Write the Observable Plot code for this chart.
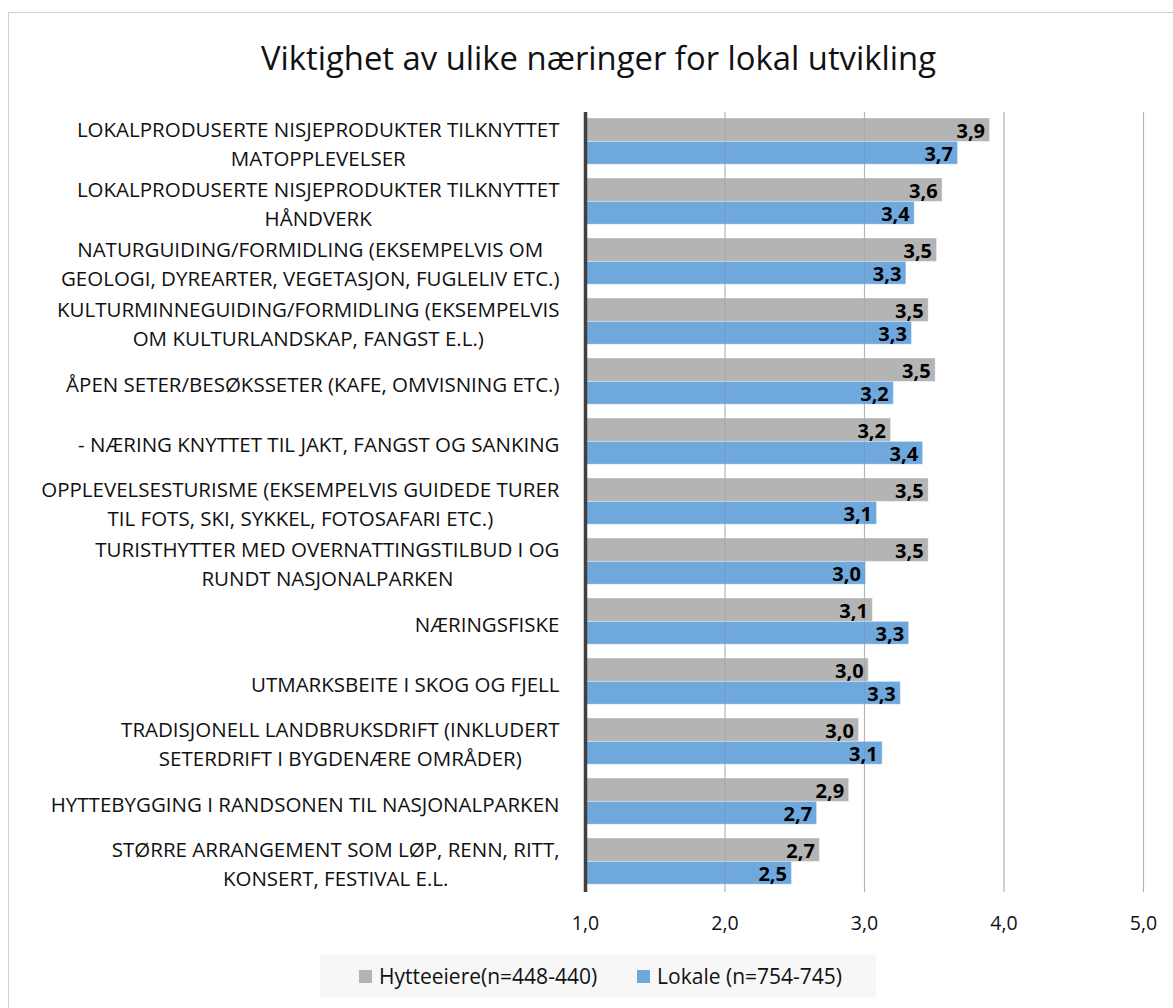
<!DOCTYPE html>
<html>
<head>
<meta charset="utf-8">
<script src="https://cdn.jsdelivr.net/npm/d3@7"></script>
<script src="https://cdn.jsdelivr.net/npm/@observablehq/plot@0.6"></script>
<style>
  body { margin: 0; background: #fff; font-family: "Open Sans", sans-serif; }
  #wrap { position: relative; width: 1173px; height: 1008px; overflow: hidden; }
  #border { position: absolute; left: 8px; top: 12px; width: 1200px; height: 1100px; border: 1px solid #d0d0d0; box-sizing: border-box; }
  #title { position: absolute; top: 36px; left: 0; width: 1197px; text-align: center; font-size: 32.8px; color: #111; line-height: 44px; }
  #chart { position: absolute; top: 100px; left: 0; }
  #legend { position: absolute; left: 320px; top: 954px; width: 556px; height: 44px; background: #f7f7f7; box-sizing: border-box;
            padding-left: 39px; display: flex; align-items: center; justify-content: flex-start; gap: 40px; font-size: 21px; color: #111; }
  .item { display: flex; align-items: center; gap: 7px; }
  .sw { width: 13px; height: 13px; display: inline-block; }
</style>
</head>
<body>
<div id="wrap">
  <div id="border"></div>
  <div id="title">Viktighet av ulike næringer for lokal utvikling</div>
  <div id="chart"></div>
  <div id="legend"></div>
</div>
<script>
const categories = [
  "LOKALPRODUSERTE NISJEPRODUKTER TILKNYTTET\nMATOPPLEVELSER",
  "LOKALPRODUSERTE NISJEPRODUKTER TILKNYTTET\nHÅNDVERK",
  "NATURGUIDING/FORMIDLING (EKSEMPELVIS OM\nGEOLOGI, DYREARTER, VEGETASJON, FUGLELIV ETC.)",
  "KULTURMINNEGUIDING/FORMIDLING (EKSEMPELVIS\nOM KULTURLANDSKAP, FANGST E.L.)",
  "ÅPEN SETER/BESØKSSETER (KAFE, OMVISNING ETC.)",
  "- NÆRING KNYTTET TIL JAKT, FANGST OG SANKING",
  "OPPLEVELSESTURISME (EKSEMPELVIS GUIDEDE TURER\nTIL FOTS, SKI, SYKKEL, FOTOSAFARI ETC.)",
  "TURISTHYTTER MED OVERNATTINGSTILBUD I OG\nRUNDT NASJONALPARKEN",
  "NÆRINGSFISKE",
  "UTMARKSBEITE I SKOG OG FJELL",
  "TRADISJONELL LANDBRUKSDRIFT (INKLUDERT\nSETERDRIFT I BYGDENÆRE OMRÅDER)",
  "HYTTEBYGGING I RANDSONEN TIL NASJONALPARKEN",
  "STØRRE ARRANGEMENT SOM LØP, RENN, RITT,\nKONSERT, FESTIVAL E.L."
];
const seriesNames = ["Hytteeiere(n=448-440)", "Lokale (n=754-745)"];
const hytteeiere = [3.90, 3.56, 3.52, 3.46, 3.51, 3.19, 3.46, 3.46, 3.06, 3.03, 2.96, 2.89, 2.68];
const lokale     = [3.67, 3.36, 3.30, 3.34, 3.21, 3.42, 3.09, 3.01, 3.32, 3.26, 3.13, 2.66, 2.48];
const xTicks = [1, 2, 3, 4, 5];

const colors = ["#b4b4b4", "#6fa8dc"];
const fmt = v => d3.format(".1f")(v).replace(".", ",");

const rows = [];
categories.forEach((c, i) => {
  rows.push({i, series: seriesNames[0], value: hytteeiere[i], k: 0});
  rows.push({i, series: seriesNames[1], value: lokale[i], k: 1});
});
const band = [[0.1, 0.49], [0.49, 0.87]];

const labelSize = 20.5;
const labelFont = `${labelSize}px "Open Sans"`;
const ctx = document.createElement("canvas").getContext("2d");
ctx.font = labelFont;
const measure = s => ctx.measureText(s).width;
const labelGap = 26;

const labelMarks = categories.map((c, i) => {
  const w = d3.max(c.split("\n"), measure);
  return Plot.text([c], {
    x: 1, y: i + 0.5, text: d => d, textAnchor: "middle",
    dx: -(labelGap + w / 2), fontSize: labelSize, lineHeight: 1.37, fill: "#111"
  });
});

const chart = Plot.plot({
  width: 1173,
  height: 840,
  marginLeft: 585,
  marginRight: 30,
  marginTop: 12,
  marginBottom: 48,
  style: {fontFamily: "Open Sans", fontSize: "19.5px", color: "#111", background: "transparent"},
  x: {domain: [1, 5], ticks: xTicks, tickFormat: fmt, tickSize: 0, tickPadding: 24, label: null},
  y: {domain: [0, categories.length], reverse: true, axis: null},
  color: {domain: seriesNames, range: colors},
  marks: [
    Plot.ruleX(xTicks.slice(1), {y1: 0, y2: categories.length, stroke: "#c4c4c4", strokeWidth: 1.2}),
    Plot.rect(rows, {
      x1: 1, x2: "value",
      y1: d => d.i + band[d.k][0], y2: d => d.i + band[d.k][1],
      fill: "series", stroke: "#ffffff", strokeOpacity: 0.35, strokeWidth: 1
    }),
    Plot.ruleX(xTicks.slice(1), {y1: 0, y2: categories.length, stroke: "#777", strokeOpacity: 0.18}),
    Plot.ruleX([1], {y1: 0, y2: categories.length, stroke: "#404040", strokeWidth: 3.5}),
    Plot.text(rows, {
      x: "value", y: d => d.i + (band[d.k][0] + band[d.k][1]) / 2,
      text: d => fmt(d.value), textAnchor: "end", dx: -5, dy: 1.5,
      fontWeight: "bold", fontSize: 20, fill: "#000"
    }),
    ...labelMarks
  ]
});
document.getElementById("chart").appendChild(chart);

const legend = document.getElementById("legend");
seriesNames.forEach((s, k) => {
  const it = document.createElement("div");
  it.className = "item";
  const sw = document.createElement("span");
  sw.className = "sw";
  sw.style.background = colors[k];
  const tx = document.createElement("span");
  tx.textContent = s;
  it.appendChild(sw); it.appendChild(tx);
  legend.appendChild(it);
});
</script>
</body>
</html>
